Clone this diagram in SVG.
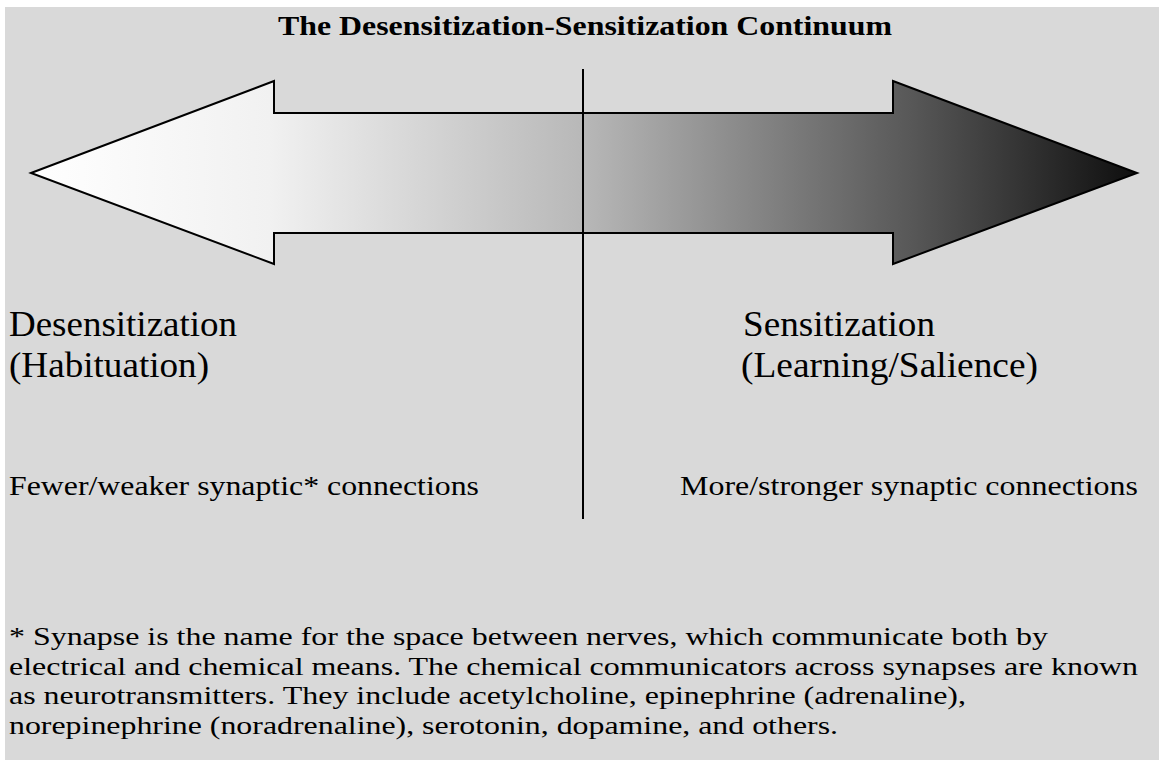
<svg xmlns="http://www.w3.org/2000/svg" width="1159" height="760" viewBox="0 0 1159 760">
<defs>
<linearGradient id="grad" gradientUnits="userSpaceOnUse" x1="31" y1="0" x2="1137" y2="0">
<stop offset="0" stop-color="#ffffff"/>
<stop offset="0.216" stop-color="#f1f1f1"/>
<stop offset="0.499" stop-color="#b8b8b8"/>
<stop offset="0.795" stop-color="#585858"/>
<stop offset="1" stop-color="#0e0e0e"/>
</linearGradient>
<style>
.t{font-family:"Liberation Serif","Times New Roman",serif;fill:#000}
.big{font-size:35px}
.mid{font-size:26.5px}
.note{font-size:26px}
.title{font-size:28px;font-weight:bold}
</style>
</defs>
<rect x="0" y="0" width="1159" height="760" fill="#ffffff"/>
<rect x="5" y="7" width="1154" height="753" fill="#d9d9d9"/>
<g id="arrow">
<polygon points="31,173 274,81 274,113 893,113 893,81 1137,173 893,264 893,233 274,233 274,264" fill="url(#grad)" stroke="#000" stroke-width="2" stroke-linejoin="miter"/>
</g>
<g id="connectors">
<line x1="583" y1="69" x2="583" y2="519" stroke="#000" stroke-width="2"/>
</g>
<g id="title"><text class="t title" x="278" y="35" textLength="614" lengthAdjust="spacingAndGlyphs">The Desensitization-Sensitization Continuum</text></g>
<g id="left-label">
<text class="t big" x="9" y="336" textLength="228" lengthAdjust="spacingAndGlyphs">Desensitization</text>
<text class="t big" x="9" y="377" textLength="200" lengthAdjust="spacingAndGlyphs">(Habituation)</text>
</g>
<g id="right-label">
<text class="t big" x="743" y="336" textLength="192" lengthAdjust="spacingAndGlyphs">Sensitization</text>
<text class="t big" x="741" y="377" textLength="297" lengthAdjust="spacingAndGlyphs">(Learning/Salience)</text>
</g>
<g id="left-desc"><text class="t mid" x="9" y="495" textLength="470" lengthAdjust="spacingAndGlyphs">Fewer/weaker synaptic* connections</text></g>
<g id="right-desc"><text class="t mid" x="680" y="495" textLength="458" lengthAdjust="spacingAndGlyphs">More/stronger synaptic connections</text></g>
<g id="footnote">
<text class="t note" x="9" y="645" textLength="1039" lengthAdjust="spacingAndGlyphs">* Synapse is the name for the space between nerves, which communicate both by</text>
<text class="t note" x="9" y="674.5" textLength="1129" lengthAdjust="spacingAndGlyphs">electrical and chemical means. The chemical communicators across synapses are known</text>
<text class="t note" x="9" y="704" textLength="957" lengthAdjust="spacingAndGlyphs">as neurotransmitters. They include acetylcholine, epinephrine (adrenaline),</text>
<text class="t note" x="9" y="733.5" textLength="829" lengthAdjust="spacingAndGlyphs">norepinephrine (noradrenaline), serotonin, dopamine, and others.</text>
</g>
</svg>
